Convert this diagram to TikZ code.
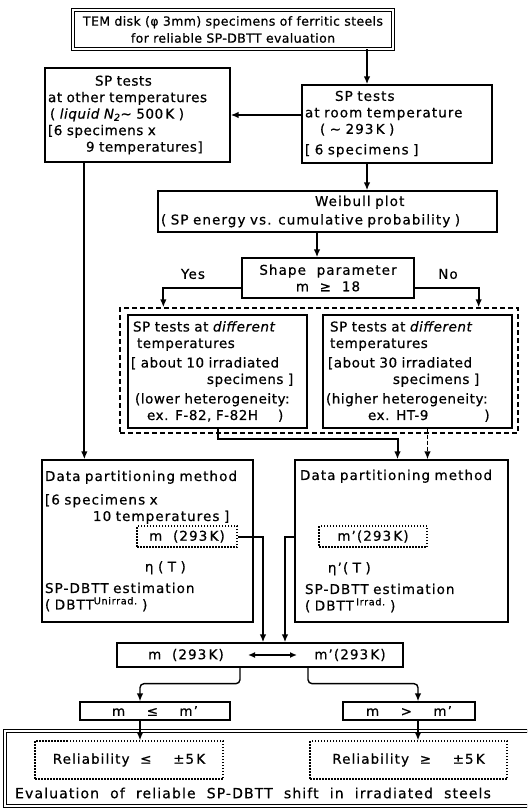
\documentclass[tikz,border=0pt]{standalone}
\usepackage{fontspec}
\setmainfont{DejaVu Sans}[LetterSpace=8,WordSpace=2.0,FakeBold=0.6]
\newfontfamily\narrowfont{DejaVu Sans}[LetterSpace=4,WordSpace=1.8,FakeBold=0.6]
\newfontfamily\topfont{DejaVu Sans}[LetterSpace=3,FakeBold=0.6]
\usetikzlibrary{arrows.meta}
\newcommand{\boxsize}{\fontsize{13.5}{16.5}\selectfont}

\begin{document}
\begin{tikzpicture}[x=1pt, y=-1pt,
    box/.style={draw, line width=1.3pt, inner sep=3pt, align=left, font=\boxsize},
    nbox/.style={box, font=\narrowfont\boxsize},
    dotbox/.style={draw, line width=1.1pt, dash pattern=on 1.5pt off 1.5pt, inner sep=2pt, font=\boxsize},
    txt/.style={inner sep=1pt, font=\boxsize},
    arr/.style={line width=2pt, -{Latex[length=8pt, width=6.5pt]}},
    thinarr/.style={line width=1.4pt, -{Latex[length=8pt, width=6.5pt]}}]
    \useasboundingbox (0,0) rectangle (527,810);
    \clip (0,0) rectangle (527,810);

    % top of the chart
    \node[box, double, double distance=1.5pt, line width=0.8pt, align=center,
        font=\topfont\fontsize{12.5}{17}\selectfont, minimum width=320, minimum height=39]
        (top) at (233,29.5) {TEM disk (φ 3mm) specimens of ferritic steels\\for reliable SP-DBTT evaluation};
    \node[nbox, text width=179, minimum height=94] (lsp) at (137.5,115)
        {\hspace*{47pt}SP tests\\at other temperatures\\\hspace*{2pt}( \textit{liquid N\textsubscript{2}}\textasciitilde\ 500\,K )\\{}[6 specimens x\\\hspace*{38pt}9 temperatures]};
    \node[box, text width=184, minimum height=78] (rsp) at (397,124)
        {\hspace*{30pt}SP tests\\at room temperature\\\hspace*{15pt}( \textasciitilde\ 293\,K )\\[4pt]{}[ 6 specimens ]};
    \node[box, text width=333, minimum height=41] (weib) at (327.5,211.5)
        {\hspace*{154pt}Weibull plot\\[2pt]( SP energy vs. cumulative probability )};
    \node[box, align=center, minimum width=172, minimum height=40] (shape) at (328,278)
        {Shape parameter\\m ≥ 18};

    \draw[arr] ([xshift=-30pt]top.south -| rsp.north) -- ([xshift=-30pt]rsp.north);
    \draw[arr] ([yshift=9pt]rsp.west) -- ([yshift=9pt]rsp.west -| lsp.east);
    \draw[arr] ([xshift=-30pt]rsp.south) -- ([xshift=-30pt]rsp.south |- weib.north);
    \draw[arr] ([xshift=-11pt]shape.north |- weib.south) -- ([xshift=-11pt]shape.north);

    % irradiated specimens
    \node[draw, line width=1.3pt, dash pattern=on 5pt off 3pt, minimum width=398, minimum height=125] (grp) at (319,370.5) {};
    \node[nbox, text width=173, minimum height=113] (lirr) at (217.5,371.5)
        {\hspace*{2pt}SP tests at \textit{different}\\\hspace*{6pt}temperatures\\[3pt]{}[ about 10 irradiated\\\hspace*{76pt}specimens ]\\[3pt]\hspace*{4pt}(lower heterogeneity:\\\hspace*{16pt}ex. F-82, F-82H\hspace{20pt})};
    \node[nbox, text width=183, minimum height=113] (rirr) at (417.5,371.5)
        {\hspace*{4pt}SP tests at \textit{different}\\\hspace*{4pt}temperatures\\[3pt]\hspace*{2pt}[about 30 irradiated\\\hspace*{67pt}specimens ]\\[3pt](higher heterogeneity:\\\hspace*{42pt}ex. HT-9\hspace{56pt})};

    \draw[arr] ([yshift=-10pt]shape.west) -| ([xshift=44pt]grp.north west);
    \draw[arr] ([yshift=-10pt]shape.east) -| ([xshift=-40pt]grp.north east);
    \node[txt] (yes) at (193,274) {Yes};
    \node[txt] (no) at (448,274) {No};

    % data partitioning
    \node[box, text width=205, minimum height=162] (ldata) at (147.5,541)
        {Data partitioning method\\[7pt]{}[6 specimens x\\\hspace*{48pt}10 temperatures ]\\[34pt]\hspace*{100pt}η ( T )\\[5pt]SP-DBTT estimation\\( DBTT\textsuperscript{Unirrad.} )};
    \node[box, text width=207, minimum height=162] (rdata) at (401.5,541)
        {\hspace*{2pt}Data partitioning method\\[76pt]\hspace*{30pt}η'( T )\\[5pt]\hspace*{7pt}SP-DBTT estimation\\\hspace*{7pt}( DBTT\,\textsuperscript{Irrad.} )};
    \node[dotbox, minimum width=100, minimum height=21] (mdot) at (187,536.5) {m (293\,K)};
    \node[dotbox, minimum width=108, minimum height=21] (mpdot) at (373,536.5) {m'(293\,K)};

    \draw[arr] ([xshift=40pt]lsp.south west) -- ([xshift=40pt]lsp.south west |- ldata.north);
    \draw[arr] (lirr.south) -- ++(0,10) -| ([xshift=-4pt]rdata.north);
    \draw[thinarr, dash pattern=on 4pt off 2pt] ([xshift=10pt]rirr.south) -- ([xshift=10pt]rirr.south |- rdata.north);

    % comparison
    \node[box, minimum width=286, minimum height=24] (cmp) at (260,655) {};
    \node[txt] (cmL) at (186,655) {m (293\,K)};
    \node[txt] (cmR) at (350,655) {m'(293\,K)};
    \draw[line width=2pt, {Latex[length=7pt, width=6pt]}-{Latex[length=7pt, width=6pt]}]
        ([xshift=-12pt]cmp.center) -- ([xshift=37pt]cmp.center);
    \draw[arr] (mdot.east) -| ([xshift=3pt]cmp.north);
    \draw[arr] (mpdot.west -| rdata.west) -| ([xshift=25pt]cmp.north);

    \node[box, align=center, inner sep=1pt, minimum width=150, minimum height=18] (le) at (155,711) {m \ ≤ \ m'};
    \node[box, align=center, inner sep=1pt, minimum width=132, minimum height=18] (gt) at (409,711) {m \ > \ m'};
    \draw[thinarr, rounded corners=4pt] ([xshift=-20pt]cmp.south) -- ++(0,16) -| ([xshift=-15pt]le.north);
    \draw[thinarr, rounded corners=4pt] ([xshift=48pt]cmp.south) -- ++(0,16) -| ([xshift=9pt]gt.north);

    % evaluation
    \node[draw, double, double distance=1.2pt, line width=1pt, minimum width=530, minimum height=75] (bot) at (270,768.5) {};
    \node[dotbox, minimum width=188, minimum height=38] (rel1) at (129,760) {Reliability ≤ \ ±5\,K};
    \node[dotbox, minimum width=197, minimum height=38] (rel2) at (408.5,760) {Reliability ≥ \ ±5\,K};
    \node[txt, font=\fontsize{14}{17}\selectfont] (evaltxt) at (253,793) {Evaluation of reliable SP-DBTT shift in irradiated steels};
    \draw[arr] ([xshift=-15pt]le.south) -- ([xshift=-15pt]le.south |- rel1.north);
    \draw[arr] ([xshift=9pt]gt.south) -- ([xshift=9pt]gt.south |- rel2.north);
\end{tikzpicture}
\end{document}
